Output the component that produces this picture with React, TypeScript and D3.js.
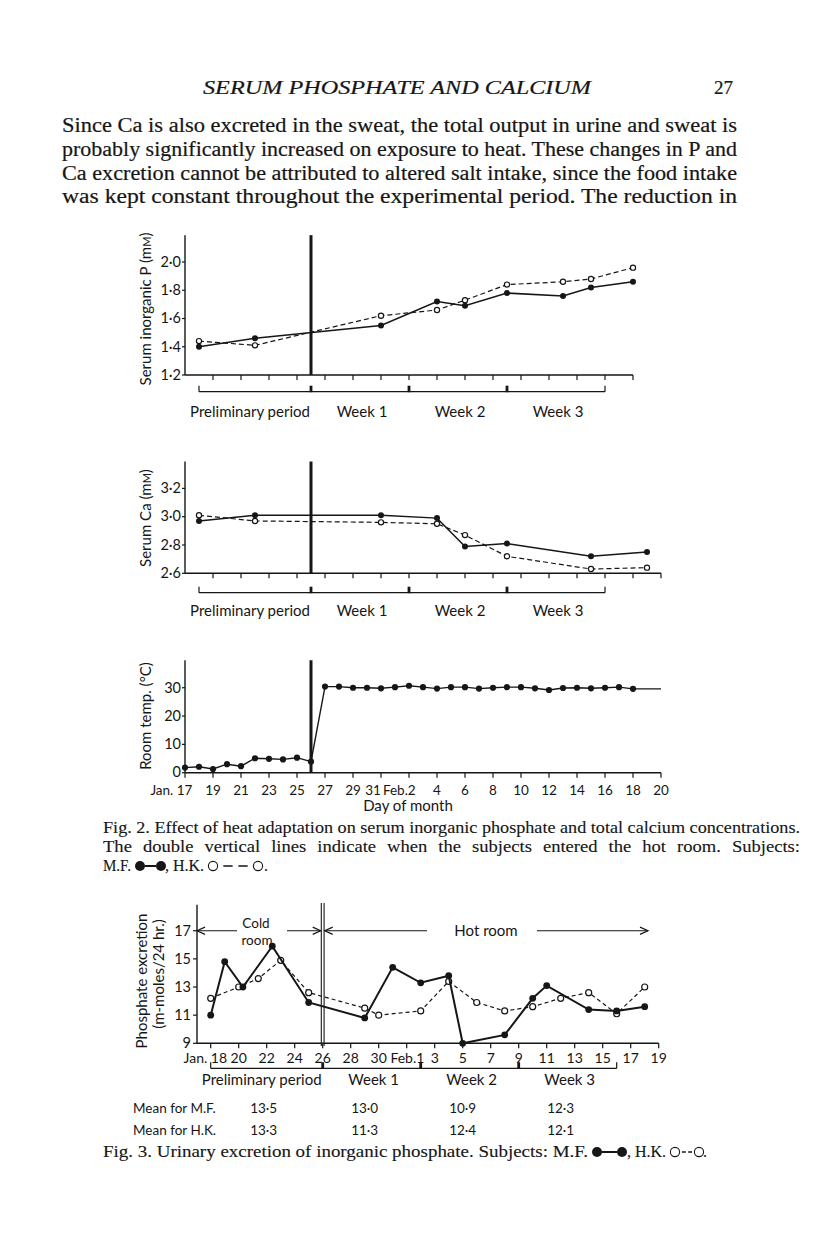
import * as d3 from "d3";
import React from "react";

const SANS = "Lato, 'Open Sans', 'DejaVu Sans', sans-serif";
const SERIF = "'Liberation Serif', 'DejaVu Serif', serif";
const INK = "#161616";

// day numbers: January n -> n, February n -> 31 + n
const HOT_DAY = 26;
const periodBounds = [18, 26, 33, 40, 47];
const periodLabels = ["Preliminary period", "Week 1", "Week 2", "Week 3"];

// Fig. 2 - serum inorganic P (mM)
const pDays = [18, 22, 31, 35, 37, 40, 44, 46, 49];
const pMF = [1.4, 1.46, 1.55, 1.72, 1.69, 1.78, 1.76, 1.82, 1.86];
const pHK = [1.44, 1.41, 1.62, 1.66, 1.73, 1.84, 1.86, 1.88, 1.96];
const pTicks = [1.2, 1.4, 1.6, 1.8, 2.0];

// Fig. 2 - serum Ca (mM)
const caDays = [18, 22, 31, 35, 37, 40, 46, 50];
const caMF = [2.97, 3.01, 3.01, 2.99, 2.79, 2.81, 2.72, 2.75];
const caHK = [3.01, 2.97, 2.96, 2.95, 2.87, 2.72, 2.63, 2.64];
const caTicks = [2.6, 2.8, 3.0, 3.2];

// Fig. 2 - room temperature (deg C)
const tempDays = [
  17, 18, 19, 20, 21, 22, 23, 24, 25, 26, 27, 28, 29, 30, 31, 32, 33, 34, 35,
  36, 37, 38, 39, 40, 41, 42, 43, 44, 45, 46, 47, 48, 49,
];
const tempValues = [
  1.8, 2.1, 1.3, 3.0, 2.3, 5.1, 4.9, 4.7, 5.3, 3.9, 30.4, 30.4, 30.0, 30.0,
  29.8, 30.2, 30.7, 30.2, 29.7, 30.2, 30.2, 29.7, 30.0, 30.2, 30.2, 29.8, 29.2,
  29.9, 30.0, 29.8, 30.0, 30.2, 29.6,
];
const tempTicks = [0, 10, 20, 30];
const fig2LabelDays = [17, 19, 21, 23, 25, 27, 29, 31, 33, 35, 37, 39, 41, 43, 45, 47, 49, 51];
const fig2Labels = ["Jan. 17", "19", "21", "23", "25", "27", "29", "31", "Feb.2", "4", "6", "8", "10", "12", "14", "16", "18", "20"];

// Fig. 3 - phosphate excretion (m-moles/24 hr.)
const exMFDays = [18, 19, 20.3, 22.4, 25, 29, 31, 33, 35, 36, 39, 41, 42, 45, 47, 49];
const exMF = [11.0, 14.8, 13.0, 15.9, 11.9, 10.8, 14.4, 13.3, 13.8, 9.0, 9.6, 12.2, 13.1, 11.4, 11.3, 11.6];
const exHKDays = [18, 20, 21.4, 23, 25, 29, 30, 33, 35, 37, 39, 41, 43, 45, 47, 49];
const exHK = [12.2, 13.0, 13.6, 14.9, 12.6, 11.5, 11.0, 11.3, 13.4, 11.9, 11.3, 11.6, 12.2, 12.6, 11.1, 13.0];
const exTicks = [9, 11, 13, 15, 17];
const fig3LabelDays = [18, 20, 22, 24, 26, 28, 30, 32, 34, 36, 38, 40, 42, 44, 46, 48, 50];
const fig3Labels = ["Jan. 18", "20", "22", "24", "26", "28", "30", "Feb.1", "3", "5", "7", "9", "11", "13", "15", "17", "19"];
const meanMF = ["13·5", "13·0", "10·9", "12·3"];
const meanHK = ["13·3", "11·3", "12·4", "12·1"];

const bodyLines = [
  "Since Ca is also excreted in the sweat, the total output in urine and sweat is",
  "probably significantly increased on exposure to heat. These changes in P and",
  "Ca excretion cannot be attributed to altered salt intake, since the food intake",
  "was kept constant throughout the experimental period. The reduction in",
];

const dotFmt = (v: number) => v.toFixed(1).replace(".", "·");

type Scale = d3.ScaleLinear<number, number>;

function Series({ x, y, days, values, filled, r = 3, width = 1.5, dash = "5 3" }: any) {
  const pts = days.map((d: number, i: number) => [x(d), y(values[i])] as [number, number]);
  const path = d3.line()(pts) || "";
  return (
    <g>
      <path
        d={path}
        fill="none"
        stroke={INK}
        strokeWidth={filled ? width : 1.2}
        strokeDasharray={filled ? undefined : dash}
      />
      {pts.map(([px, py]: [number, number], i: number) => (
        <circle
          key={i}
          cx={px}
          cy={py}
          r={filled ? r : r - 0.4}
          fill={filled ? INK : "#fff"}
          stroke={filled ? "none" : INK}
          strokeWidth={1.2}
        />
      ))}
    </g>
  );
}

function YAxis({ x0, y, ticks, fmt, top, tick = 3, gap = 4 }: any) {
  const y0 = y.range()[0];
  return (
    <g>
      <line x1={x0} x2={x0} y1={y0} y2={y(top)} stroke={INK} strokeWidth={1.4} />
      {ticks.map((t: number) => (
        <g key={t}>
          <line x1={x0 - tick} x2={x0} y1={y(t)} y2={y(t)} stroke={INK} strokeWidth={1.2} />
          <text x={x0 - gap} y={y(t)} dy="0.33em" textAnchor="end" fontSize={14.5}>
            {fmt(t)}
          </text>
        </g>
      ))}
    </g>
  );
}

function XAxis({ x, y0, from, to, ticks }: any) {
  return (
    <g>
      <line x1={x(from)} x2={x(to)} y1={y0} y2={y0} stroke={INK} strokeWidth={1.4} />
      {ticks.map((d: number) => (
        <line key={d} x1={x(d)} x2={x(d)} y1={y0} y2={y0 + 5} stroke={INK} strokeWidth={1.2} />
      ))}
    </g>
  );
}

function DayLabels({ x, y, days, labels, shift, size = 14 }: any) {
  return (
    <g fontSize={size}>
      {labels.map((l: string, i: number) => {
        const m = l.match(/^(.*?)(\d+)$/) as RegExpMatchArray;
        const px = x(days[i]) + (shift[l] || 0);
        return m[1] ? (
          <text key={l} x={px + m[2].length * 3.7} y={y} textAnchor="end">
            {l}
          </text>
        ) : (
          <text key={l} x={px} y={y} textAnchor="middle">
            {l}
          </text>
        );
      })}
    </g>
  );
}

function Periods({ x, y, labelY }: any) {
  const xs = periodBounds.map((d) => x(d));
  const last = xs[xs.length - 1];
  return (
    <g>
      <line x1={xs[0]} x2={last} y1={y} y2={y} stroke={INK} strokeWidth={1.2} />
      <line x1={xs[0]} x2={xs[0]} y1={y} y2={y - 6} stroke={INK} strokeWidth={1.2} />
      <line x1={last} x2={last} y1={y} y2={y - 6} stroke={INK} strokeWidth={1.2} />
      {xs.slice(1, -1).map((px) => (
        <rect key={px} x={px - 1.4} y={y - 6} width={2.8} height={6.5} fill={INK} />
      ))}
      {periodLabels.map((l, i) => (
        <text
          key={l}
          x={(xs[i] + xs[i + 1]) / 2 + (i === 0 ? -5 : 2)}
          y={labelY}
          textAnchor="middle"
          fontSize={15}
        >
          {l}
        </text>
      ))}
    </g>
  );
}

function Arrow({ x1, x2, y, head }: any) {
  const hs = (tip: number, dir: number) =>
    `M${tip + dir * 8},${y - 3.6}L${tip},${y}L${tip + dir * 8},${y + 3.6}`;
  return (
    <g fill="none" stroke={INK} strokeWidth={1.2}>
      <line x1={x1} x2={x2} y1={y} y2={y} />
      {head === "left" && <path d={hs(x1, 1)} />}
      {head === "right" && <path d={hs(x2, -1)} />}
    </g>
  );
}

function LegendMark({ x, y, w, filled }: any) {
  const r = filled ? 5 : 4.6;
  const inner = w - 2 * r;
  const dash = inner * 0.26;
  const gap = (inner - 2 * dash) / 3;
  return (
    <g>
      <line
        x1={x + r}
        x2={x + w - r}
        y1={y}
        y2={y}
        stroke={INK}
        strokeWidth={filled ? 2 : 1.3}
        strokeDasharray={filled ? undefined : `${dash} ${gap}`}
        strokeDashoffset={filled ? 0 : dash}
      />
      {[x, x + w].map((cx) => (
        <circle
          key={cx}
          cx={cx}
          cy={y}
          r={r}
          fill={filled ? INK : "#fff"}
          stroke={INK}
          strokeWidth={filled ? 0 : 1.1}
        />
      ))}
    </g>
  );
}

export default function App() {
  // Fig. 2 shared day axis
  const x2 = d3.scaleLinear().domain([17, 51]).range([185, 661]);
  const yP: Scale = d3.scaleLinear().domain([1.2, 2.2]).range([375, 233.75]);
  const yCa: Scale = d3.scaleLinear().domain([2.6, 3.4]).range([573.3, 460.1]);
  const yT: Scale = d3.scaleLinear().domain([0, 40]).range([772.7, 659.4]);
  // Fig. 3
  const x3 = d3.scaleLinear().domain([17, 50]).range([196.7, 658.7]);
  const yE: Scale = d3.scaleLinear().domain([9, 19]).range([1043.3, 902.6]);

  const oddTicks = (a: number, b: number) => d3.range(a, b + 1, 2);
  const tempLine = tempDays.concat([51]);
  const tempLineVals = tempValues.concat([tempValues[tempValues.length - 1]]);
  const hx3 = x3(HOT_DAY);
  const arrowY = yE(17);

  return (
    <svg
      width={816}
      height={1248}
      style={{ position: "absolute", left: 0, top: 0, background: "#fff" }}
      fontFamily={SANS}
      fill={INK}
    >
      {/* running head and body text */}
      <g fontFamily={SERIF} stroke={INK} strokeWidth={0.2}>
        <text x={203} y={93.5} fontSize={18} fontStyle="italic" textLength={388} lengthAdjust="spacingAndGlyphs">
          SERUM PHOSPHATE AND CALCIUM
        </text>
        <text x={733} y={93.5} fontSize={19} textAnchor="end">
          27
        </text>
        {bodyLines.map((l, i) => (
          <text key={i} x={62} y={131.7 + i * 23.9} fontSize={20} textLength={675} lengthAdjust="spacingAndGlyphs">
            {l}
          </text>
        ))}
      </g>

      {/* Fig. 2a serum P */}
      <g>
        <text transform="translate(150.5,309) rotate(-90)" textAnchor="middle" fontSize={15}>
          Serum inorganic P (m<tspan fontSize={11}>M</tspan>)
        </text>
        <YAxis x0={185} y={yP} ticks={pTicks} fmt={dotFmt} top={2.19} />
        <XAxis x={x2} y0={375} from={17} to={49} ticks={oddTicks(19, 49)} />
        <line x1={x2(HOT_DAY)} x2={x2(HOT_DAY)} y1={yP(2.19)} y2={375} stroke={INK} strokeWidth={3} />
        <Series x={x2} y={yP} days={pDays} values={pHK} filled={false} />
        <Series x={x2} y={yP} days={pDays} values={pMF} filled />
        <Periods x={x2} y={391.7} labelY={417} />
      </g>

      {/* Fig. 2b serum Ca */}
      <g>
        <text transform="translate(151,518) rotate(-90)" textAnchor="middle" fontSize={15}>
          Serum Ca (m<tspan fontSize={11}>M</tspan>)
        </text>
        <YAxis x0={185} y={yCa} ticks={caTicks} fmt={dotFmt} top={3.39} />
        <XAxis x={x2} y0={573.3} from={17} to={51} ticks={oddTicks(19, 51)} />
        <line x1={x2(HOT_DAY)} x2={x2(HOT_DAY)} y1={yCa(3.39)} y2={573.3} stroke={INK} strokeWidth={3} />
        <Series x={x2} y={yCa} days={caDays} values={caHK} filled={false} />
        <Series x={x2} y={yCa} days={caDays} values={caMF} filled />
        <Periods x={x2} y={592.7} labelY={616} />
      </g>

      {/* Fig. 2c room temperature */}
      <g>
        <text transform="translate(151,716) rotate(-90)" textAnchor="middle" fontSize={15}>
          Room temp. (°C)
        </text>
        <YAxis x0={185} y={yT} ticks={tempTicks} fmt={(v: number) => String(v)} top={39.7} />
        <XAxis x={x2} y0={772.7} from={17} to={51} ticks={oddTicks(17, 51)} />
        <line x1={x2(HOT_DAY)} x2={x2(HOT_DAY)} y1={yT(39.7)} y2={772.7} stroke={INK} strokeWidth={3} />
        <path
          d={d3.line()(tempLine.map((d, i) => [x2(d), yT(tempLineVals[i])] as [number, number])) || ""}
          fill="none"
          stroke={INK}
          strokeWidth={1.4}
        />
        {tempDays.map((d, i) => (
          <circle key={d} cx={x2(d)} cy={yT(tempValues[i])} r={3.1} fill={INK} />
        ))}
        <DayLabels
          x={x2}
          y={795}
          days={fig2LabelDays}
          labels={fig2Labels}
          shift={{ "31": -8, "Feb.2": 3 }}
          size={13.5}
        />
        <text x={408} y={811} textAnchor="middle" fontSize={15}>
          Day of month
        </text>
      </g>

      {/* Fig. 2 caption */}
      <g fontFamily={SERIF} fontSize={16} stroke={INK} strokeWidth={0.12}>
        <text x={103} y={833} textLength={697} lengthAdjust="spacingAndGlyphs">
          Fig. 2. Effect of heat adaptation on serum inorganic phosphate and total calcium concentrations.
        </text>
        <text x={103} y={852} wordSpacing={5.5} textLength={697} lengthAdjust="spacingAndGlyphs">
          The double vertical lines indicate when the subjects entered the hot room. Subjects:
        </text>
        <text x={103} y={871} textLength={28} lengthAdjust="spacingAndGlyphs">
          M.F.
        </text>
        <text x={165} y={871}>
          , H.K.
        </text>
        <text x={264} y={871}>
          .
        </text>
      </g>
      <LegendMark x={140} y={866} w={21} filled />
      <LegendMark x={213} y={866} w={45} filled={false} />

      {/* Fig. 3 phosphate excretion */}
      <g>
        <text transform="translate(146.5,981) rotate(-90)" textAnchor="middle" fontSize={15}>
          Phosphate excretion
        </text>
        <text transform="translate(163.5,974) rotate(-90)" textAnchor="middle" fontSize={15}>
          (m-moles/24 hr.)
        </text>
        <YAxis x0={197} y={yE} ticks={exTicks} fmt={(v: number) => String(v)} top={18.85} tick={4} gap={6} />
        <XAxis x={x3} y0={1043.3} from={17} to={50} ticks={fig3LabelDays} />
        <line x1={hx3 - 1.4} x2={hx3 - 1.4} y1={903} y2={1046} stroke={INK} strokeWidth={1.1} />
        <line x1={hx3 + 1.4} x2={hx3 + 1.4} y1={903} y2={1046} stroke={INK} strokeWidth={1.1} />
        <Arrow x1={197} x2={237} y={arrowY} head="left" />
        <Arrow x1={287} x2={hx3 - 2} y={arrowY} head="right" />
        <Arrow x1={hx3 + 2} x2={427} y={arrowY} head="left" />
        <Arrow x1={537} x2={648} y={arrowY} head="right" />
        <text x={256} y={928} textAnchor="middle" fontSize={13.5}>
          Cold
        </text>
        <text x={257} y={945} textAnchor="middle" fontSize={13.5}>
          room
        </text>
        <text x={486} y={936} textAnchor="middle" fontSize={15}>
          Hot room
        </text>
        <Series x={x3} y={yE} days={exHKDays} values={exHK} filled={false} r={3.4} dash="4 3" />
        <Series x={x3} y={yE} days={exMFDays} values={exMF} filled r={3.4} width={2} />
        <DayLabels x={x3} y={1063} days={fig3LabelDays} labels={fig3Labels} shift={{ "Jan. 18": 9, "Feb.1": 14 }} />
        <Periods x={x3} y={1068.3} labelY={1085} />
        <g fontSize={13.5}>
          <text x={133} y={1113}>
            Mean for M.F.
          </text>
          <text x={133} y={1135}>
            Mean for H.K.
          </text>
          {periodLabels.map((_, i) => {
            const cx = (x3(periodBounds[i]) + x3(periodBounds[i + 1])) / 2 - (i === 0 ? 3 : 7);
            return (
              <g key={i}>
                <text x={cx} y={1113} textAnchor="middle">
                  {meanMF[i]}
                </text>
                <text x={cx} y={1135} textAnchor="middle">
                  {meanHK[i]}
                </text>
              </g>
            );
          })}
        </g>
      </g>

      {/* Fig. 3 caption */}
      <g fontFamily={SERIF} fontSize={16} stroke={INK} strokeWidth={0.12}>
        <text x={103} y={1157} textLength={485} lengthAdjust="spacingAndGlyphs">
          Fig. 3. Urinary excretion of inorganic phosphate. Subjects: M.F.
        </text>
        <text x={627} y={1157}>
          , H.K.
        </text>
        <text x={703} y={1157}>
          .
        </text>
      </g>
      <LegendMark x={597} y={1152} w={25} filled />
      <LegendMark x={675} y={1152} w={24} filled={false} />
    </svg>
  );
}
